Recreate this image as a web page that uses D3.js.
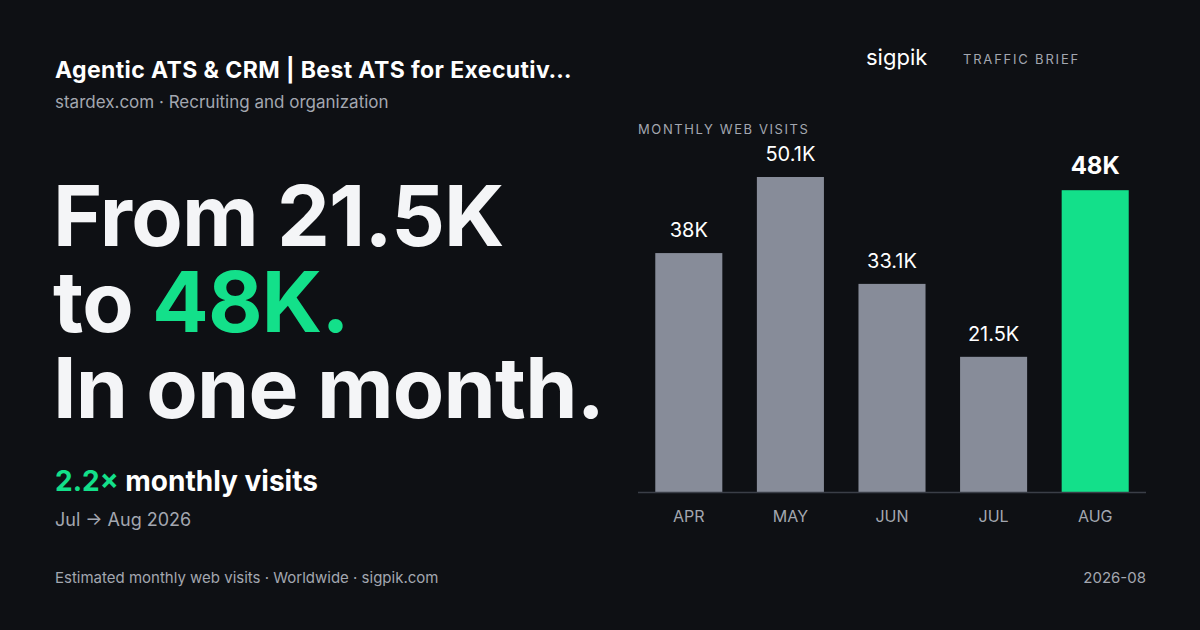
<!DOCTYPE html>
<html><head><meta charset="utf-8">
<script src="https://cdn.jsdelivr.net/npm/d3@7"></script>
<style>body{margin:0;background:#0e1014;}svg{display:block;font-family:Inter,"Noto Sans",sans-serif;}</style>
</head><body><div id="chart"></div>
<script>
// Data
var months = ['APR', 'MAY', 'JUN', 'JUL', 'AUG'];
var visits = [38, 50.1, 33.1, 21.5, 48];
var visitLabels = ['38K', '50.1K', '33.1K', '21.5K', '48K'];

var width = 1200, height = 630;
var green = '#13e08a', grey = '#878c99', muted = '#a3a7b0';

var svg = d3.select('#chart').append('svg')
	.attr('width', width).attr('height', height);
svg.append('rect').attr('width', width).attr('height', height).attr('fill', '#0e1014');

// Left text block
svg.append('text').attr('x', 55).attr('y', 78).attr('fill', '#fff')
	.attr('font-size', 23).attr('font-weight', 700).attr('letter-spacing', 0.4)
	.text('Agentic ATS & CRM | Best ATS for Executiv\u2026');
svg.append('text').attr('x', 55).attr('y', 108).attr('fill', muted)
	.attr('font-size', 17).text('stardex.com \u00b7 Recruiting and organization');

var big = [['From 21.5K', ''], ['to ', '48K.'], ['In one month.', '']];
big.forEach(function(line, i){
	var t = svg.append('text').attr('x', 53).attr('y', 246 + i * 86)
		.attr('font-size', 84).attr('font-weight', 700).attr('letter-spacing', -0.8).attr('fill', '#f4f5f7');
	t.append('tspan').text(line[0]);
	if (line[1]) t.append('tspan').attr('fill', green).text(line[1]);
});

var m = svg.append('text').attr('x', 55).attr('y', 491).attr('font-size', 28).attr('font-weight', 700).attr('fill', '#fff');
m.append('tspan').attr('fill', green).text('2.2\u00d7');
m.append('tspan').text(' monthly visits');
svg.append('text').attr('x', 55).attr('y', 526).attr('fill', muted).attr('font-size', 18).text('Jul \u2192 Aug 2026');

svg.append('text').attr('x', 55).attr('y', 583).attr('fill', muted).attr('font-size', 15)
	.text('Estimated monthly web visits \u00b7 Worldwide \u00b7 sigpik.com');
svg.append('text').attr('x', 1146).attr('y', 583).attr('text-anchor', 'end').attr('fill', muted).attr('font-size', 15).text('2026-08');

// Brand
svg.append('text').attr('x', 866).attr('y', 65).attr('fill', '#fff').attr('font-size', 22).text('sigpik');
svg.append('text').attr('x', 963).attr('y', 64).attr('fill', muted).attr('font-size', 13).attr('letter-spacing', 1.8).text('TRAFFIC BRIEF');
svg.append('text').attr('x', 638).attr('y', 134).attr('fill', muted).attr('font-size', 13).attr('letter-spacing', 1.6).text('MONTHLY WEB VISITS');

// Chart
var x = d3.scaleBand().domain(months).range([638, 1146]).paddingInner(0.34).paddingOuter(0.17);
var y = d3.scaleLinear().domain([0, 50.1]).range([492, 177]);

svg.selectAll('rect.bar').data(months).enter().append('rect')
	.attr('class', 'bar')
	.attr('x', function(d){ return x(d); })
	.attr('y', function(d, i){ return y(visits[i]); })
	.attr('width', x.bandwidth())
	.attr('height', function(d, i){ return y(0) - y(visits[i]); })
	.attr('fill', function(d, i){ return i === months.length - 1 ? green : grey; });

svg.selectAll('text.val').data(months).enter().append('text')
	.attr('class', 'val')
	.attr('x', function(d){ return x(d) + x.bandwidth() / 2; })
	.attr('y', function(d, i){ return y(visits[i]) - 16; })
	.attr('text-anchor', 'middle')
	.attr('fill', '#fff')
	.attr('font-size', function(d, i){ return i === months.length - 1 ? 24 : 20; })
	.attr('font-weight', function(d, i){ return i === months.length - 1 ? 700 : 400; })
	.text(function(d, i){ return visitLabels[i]; });

svg.append('line').attr('x1', 638).attr('x2', 1146).attr('y1', y(0) + 0.5).attr('y2', y(0) + 0.5)
	.attr('stroke', '#3a3e47').attr('stroke-width', 1.5);

svg.selectAll('text.cat').data(months).enter().append('text')
	.attr('class', 'cat')
	.attr('x', function(d){ return x(d) + x.bandwidth() / 2; })
	.attr('y', 522)
	.attr('text-anchor', 'middle')
	.attr('fill', muted).attr('font-size', 16)
	.text(function(d){ return d; });
</script></body></html>
